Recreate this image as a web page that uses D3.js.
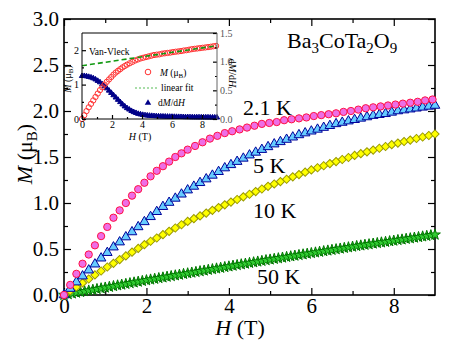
<!DOCTYPE html>
<html lang="en">
<head>
<meta charset="UTF-8">
<title>Ba3CoTa2O9 M(H)</title>
<script src="https://d3js.org/d3.v7.min.js"></script>
<style>
  body { margin: 0; background: #fff; }
  svg { display: block; }
  svg text { font-family: 'Liberation Serif', 'Times New Roman', Times, 'DejaVu Serif', serif; }
</style>
</head>
<body>
<div class="container"></div>
<script>
// field values (T)
const hCirc = [0,0.15,0.3,0.45,0.6,0.75,0.9,1.05,1.2,1.35,1.5,1.65,1.8,1.95,2.1,2.25,2.4,2.55,2.7,2.85,3.0,
  3.18,3.36,3.54,3.72,3.9,4.08,4.26,4.44,4.62,4.8,4.98,5.16,5.34,5.52,5.7,5.88,6.06,6.24,6.42,6.6,6.78,
  6.96,7.14,7.32,7.5,7.68,7.86,8.04,8.22,8.4,8.58,8.76,8.94]
const hStep = [0,0.15,0.3,0.45,0.6,0.75,0.9,1.05,1.2,1.35,1.5,1.65,1.8,1.95,2.1,2.25,2.4,2.55,2.7,2.85,
  3,3.15,3.3,3.45,3.6,3.75,3.9,4.05,4.2,4.35,4.5,4.65,4.8,4.95,5.1,5.25,5.4,5.55,5.7,5.85,
  6,6.15,6.3,6.45,6.6,6.75,6.9,7.05,7.2,7.35,7.5,7.65,7.8,7.95,8.1,8.25,8.4,8.55,8.7,8.85,9]
const hStar = [0,0.1,0.2,0.3,0.4,0.5,0.6,0.7,0.8,0.9,1,1.1,1.2,1.3,1.4,1.5,1.6,1.7,1.8,1.9,
  2,2.1,2.2,2.3,2.4,2.5,2.6,2.7,2.8,2.9,3,3.1,3.2,3.3,3.4,3.5,3.6,3.7,3.8,3.9,
  4,4.1,4.2,4.3,4.4,4.5,4.6,4.7,4.8,4.9,5,5.1,5.2,5.3,5.4,5.5,5.6,5.7,5.8,5.9,
  6,6.1,6.2,6.3,6.4,6.5,6.6,6.7,6.8,6.9,7,7.1,7.2,7.3,7.4,7.5,7.6,7.7,7.8,7.9,
  8,8.1,8.2,8.3,8.4,8.5,8.6,8.7,8.8,8.9,9]

// magnetisation (mu_B)
const m21 = [0,0.11,0.23,0.34,0.44,0.54,0.64,0.74,0.84,0.92,1.00,1.08,1.15,1.22,1.29,1.35,1.40,1.45,1.50,1.54,1.58,
  1.62,1.66,1.70,1.73,1.76,1.78,1.80,1.82,1.84,1.86,1.87,1.88,1.90,1.91,1.92,1.93,1.945,1.955,1.965,1.975,
  1.99,2.00,2.015,2.03,2.04,2.05,2.06,2.07,2.08,2.09,2.10,2.115,2.125]
const m5 = [0,.07,.14,.205,.27,.335,.40,.46,.52,.575,.63,.685,.74,.795,.85,.905,.96,1.005,1.05,1.095,
  1.14,1.18,1.22,1.26,1.30,1.34,1.38,1.415,1.45,1.485,1.52,1.55,1.58,1.61,1.64,1.665,1.69,1.715,1.74,1.76,
  1.78,1.80,1.82,1.84,1.86,1.875,1.89,1.905,1.92,1.935,1.95,1.96,1.97,1.985,2.00,2.01,2.02,2.03,2.04,2.05,2.06]
const m10 = [0,.044,.087,.131,.174,.218,.261,.304,.344,.385,.425,.466,.506,.547,.584,.620,.656,.692,.728,.764,
  .800,.830,.860,.890,.920,.950,.980,1.010,1.038,1.067,1.095,1.124,1.152,1.181,1.207,1.233,1.258,1.284,1.309,1.335,
  1.360,1.383,1.405,1.428,1.450,1.473,1.495,1.517,1.536,1.556,1.575,1.595,1.614,1.634,1.651,1.668,1.684,1.701,1.717,1.734,1.750]
const m50 = [0,.008,.016,.024,.032,.040,.048,.056,.064,.072,.080,.088,.096,.104,.112,.120,.128,.136,.144,.152,
  .160,.168,.175,.183,.190,.198,.205,.213,.220,.228,.235,.243,.250,.258,.265,.273,.280,.288,.295,.303,
  .310,.318,.325,.333,.340,.348,.355,.363,.370,.378,.385,.392,.399,.406,.413,.420,.427,.434,.441,.448,
  .455,.462,.469,.476,.483,.490,.497,.504,.511,.518,.525,.532,.538,.545,.551,.558,.564,.571,.577,.584,
  .590,.597,.603,.610,.616,.623,.629,.636,.642,.649,.655]

// inset: dM/dH at 2 K and the high-field linear fit
const dmdh = [.75,.75,.745,.735,.725,.71,.69,.665,.64,.605,.57,.535,.495,.455,.415,.375,.335,.295,.255,.22,
  .19,.165,.14,.12,.105,.09,.08,.072,.066,.061,.057,.054,.051,.049,.047,.045,.043,.042,.041,.04,
  .039,.038,.037,.036,.035,.034,.033,.033,.032,.031,.031,.030,.030,.029,.029,.028,.028,.027,.027,.026,.026]
const fitH = [0, 9]
const fitM = [1.55, 2.13]

const xTicks = [0, 2, 4, 6, 8], xMinor = [1, 3, 5, 7]
const yTicks = [0, 0.5, 1, 1.5, 2, 2.5, 3], yMinor = [0.25, 0.75, 1.25, 1.75, 2.25, 2.75]

const zip = (a, b) => a.map((v, i) => [v, b[i]])
const serif = "'Liberation Serif', 'Times New Roman', Times, 'DejaVu Serif', serif"

const svg = d3.select('.container').append('svg')
  .attr('width', 450).attr('height', 342)
  .attr('font-family', serif)

const x = d3.scaleLinear().domain([0, 9]).range([64, 435])
const y = d3.scaleLinear().domain([0, 3]).range([295, 19])

// ticks pointing inwards on all four sides
function ticks(gen, scale, vals, size, tr, fmt, fs, pad) {
  const a = gen(scale).tickValues(vals).tickSizeInner(-size).tickSizeOuter(0).tickPadding(pad || 4)
  a.tickFormat(fmt || (() => ''))
  const g = svg.append('g').attr('transform', tr).call(a)
  g.select('.domain').remove()
  g.attr('font-family', serif).attr('font-size', fs || 21)
  g.selectAll('line').attr('stroke-width', 1.2)
  return g
}
ticks(d3.axisBottom, x, xTicks, 7, 'translate(0,295)', d3.format('d'), 21, 3)
ticks(d3.axisBottom, x, xMinor, 4, 'translate(0,295)')
ticks(d3.axisTop, x, xTicks, 7, 'translate(0,19)')
ticks(d3.axisTop, x, xMinor, 4, 'translate(0,19)')
ticks(d3.axisLeft, y, yTicks, 7, 'translate(64,0)', d3.format('.1f'), 21, 5)
ticks(d3.axisLeft, y, yMinor, 4, 'translate(64,0)')
ticks(d3.axisRight, y, yTicks, 7, 'translate(435,0)')
ticks(d3.axisRight, y, yMinor, 4, 'translate(435,0)')

svg.append('rect')
  .attr('x', 64).attr('y', 19).attr('width', 371).attr('height', 276)
  .attr('fill', 'none').attr('stroke', '#000').attr('stroke-width', 1.6)

// main curves
function series(data, sx, sy, type, size, fill, stroke, rot) {
  svg.append('g').selectAll('path')
    .data(data)
    .enter()
    .append('path')
    .attr('d', d3.symbol().type(type).size(size))
    .attr('transform', d => `translate(${sx(d[0])},${sy(d[1])})` + (rot ? ` rotate(${rot})` : ''))
    .attr('fill', fill)
    .attr('stroke', stroke)
    .attr('stroke-width', 1)
}
series(zip(hStar, m50), x, y, d3.symbolStar, 36, '#33cc33', '#007700')
series(zip(hStep, m10), x, y, d3.symbolSquare, 34, '#ffff00', '#9a9a00', 45)
series(zip(hStep, m5), x, y, d3.symbolTriangle, 40, '#66ccff', '#000099')
series(zip(hCirc, m21), x, y, d3.symbolCircle, 42, '#ee6ee6', '#ff1144')

// labels
function label(tx, ty, s, fs) {
  svg.append('text').attr('x', tx).attr('y', ty).attr('font-size', fs || 22).text(s)
}
label(243, 115, '2.1 K')
label(253, 173, '5 K')
label(253, 218, '10 K')
label(257, 284, '50 K')

const title = svg.append('text').attr('x', 287).attr('y', 48).attr('font-size', 22)
title.append('tspan').text('Ba')
title.append('tspan').attr('font-size', 15).attr('dy', 5).text('3')
title.append('tspan').attr('dy', -5).text('CoTa')
title.append('tspan').attr('font-size', 15).attr('dy', 5).text('2')
title.append('tspan').attr('dy', -5).text('O')
title.append('tspan').attr('font-size', 15).attr('dy', 5).text('9')

const xt = svg.append('text').attr('x', 240).attr('y', 335)
  .attr('text-anchor', 'middle').attr('font-size', 22)
xt.append('tspan').attr('font-style', 'italic').text('H')
xt.append('tspan').text(' (T)')

const yt = svg.append('text').attr('transform', 'translate(32,154) rotate(-90)')
  .attr('text-anchor', 'middle').attr('font-size', 22)
yt.append('tspan').attr('font-style', 'italic').text('M')
yt.append('tspan').text(' (μ')
yt.append('tspan').attr('font-size', 15).attr('dy', 5).text('B')
yt.append('tspan').attr('dy', -5).text(')')

// ---- inset ----
const ix = d3.scaleLinear().domain([0, 9]).range([82, 217])
const iyL = d3.scaleLinear().domain([0, 2.5]).range([119, 33])
const iyR = d3.scaleLinear().domain([0, 1.5]).range([119, 33])

svg.append('rect')
  .attr('x', 82).attr('y', 33).attr('width', 135).attr('height', 86)
  .attr('fill', '#fff').attr('stroke', 'none')

series(zip(hStep, dmdh), ix, iyR, d3.symbolTriangle, 12, '#000088', '#000088')
series(zip(hCirc, m21), ix, iyL, d3.symbolCircle, 22, 'none', '#ff3333')

svg.append('path')
  .datum(zip(fitH, fitM))
  .attr('d', d3.line().x(d => ix(d[0])).y(d => iyL(d[1])))
  .attr('fill', 'none').attr('stroke', '#119911').attr('stroke-width', 1.6)
  .attr('stroke-dasharray', '5,3')

ticks(d3.axisBottom, ix, xTicks, 4, 'translate(0,119)', d3.format('d'), 10, 2)
ticks(d3.axisBottom, ix, xMinor, 2, 'translate(0,119)')
ticks(d3.axisLeft, iyL, [0, 1, 2], 4, 'translate(82,0)', d3.format('d'), 10, 3)
ticks(d3.axisLeft, iyL, [0.5, 1.5], 2, 'translate(82,0)')
ticks(d3.axisRight, iyR, [0, 0.5, 1, 1.5], 4, 'translate(217,0)', d3.format('.1f'), 10, 3)
  .selectAll('text').attr('fill', '#555')
ticks(d3.axisRight, iyR, [0.25, 0.75, 1.25], 2, 'translate(217,0)')

svg.append('path')
  .attr('d', 'M82,33H217')
  .attr('stroke', '#000').attr('stroke-width', 1)
svg.append('path')
  .attr('d', 'M82,33V119H217')
  .attr('fill', 'none').attr('stroke', '#000').attr('stroke-width', 1)
svg.append('path')
  .attr('d', 'M217,33V119')
  .attr('stroke', '#666').attr('stroke-width', 1)

label(89, 55, 'Van-Vleck', 9.5)

// inset legend
svg.append('circle').attr('cx', 148).attr('cy', 72).attr('r', 2.8)
  .attr('fill', 'none').attr('stroke', '#ff3333')
const l1 = svg.append('text').attr('x', 160).attr('y', 76).attr('font-size', 9.5)
l1.append('tspan').attr('font-style', 'italic').text('M')
l1.append('tspan').text(' (μ')
l1.append('tspan').attr('font-size', 7).attr('dy', 2).text('B')
l1.append('tspan').attr('dy', -2).text(')')

svg.append('path').attr('d', 'M135,88H158')
  .attr('stroke', '#55bb55').attr('stroke-width', 1.2).attr('stroke-dasharray', '2,2')
label(161, 91, 'linear fit', 9.5)

svg.append('path')
  .attr('d', d3.symbol().type(d3.symbolTriangle).size(18))
  .attr('transform', 'translate(148,103)').attr('fill', '#000088')
const l3 = svg.append('text').attr('x', 158).attr('y', 106).attr('font-size', 9.5)
l3.append('tspan').text('d')
l3.append('tspan').attr('font-style', 'italic').text('M')
l3.append('tspan').text('/d')
l3.append('tspan').attr('font-style', 'italic').text('H')

const ixt = svg.append('text').attr('x', 140).attr('y', 140)
  .attr('text-anchor', 'middle').attr('font-size', 10)
ixt.append('tspan').attr('font-style', 'italic').text('H')
ixt.append('tspan').text(' (T)')

const iyt = svg.append('text').attr('transform', 'translate(71,79) rotate(-90)')
  .attr('text-anchor', 'middle').attr('font-size', 10)
iyt.append('tspan').attr('font-style', 'italic').text('M')
iyt.append('tspan').text(' (μ')
iyt.append('tspan').attr('font-size', 7).attr('dy', 2).text('B')
iyt.append('tspan').attr('dy', -2).text(')')

const iyr = svg.append('text').attr('transform', 'translate(229,73) rotate(90)')
  .attr('text-anchor', 'middle').attr('font-size', 10)
iyr.append('tspan').text('d')
iyr.append('tspan').attr('font-style', 'italic').text('M')
iyr.append('tspan').text('/d')
iyr.append('tspan').attr('font-style', 'italic').text('H')
</script>
</body>
</html>
